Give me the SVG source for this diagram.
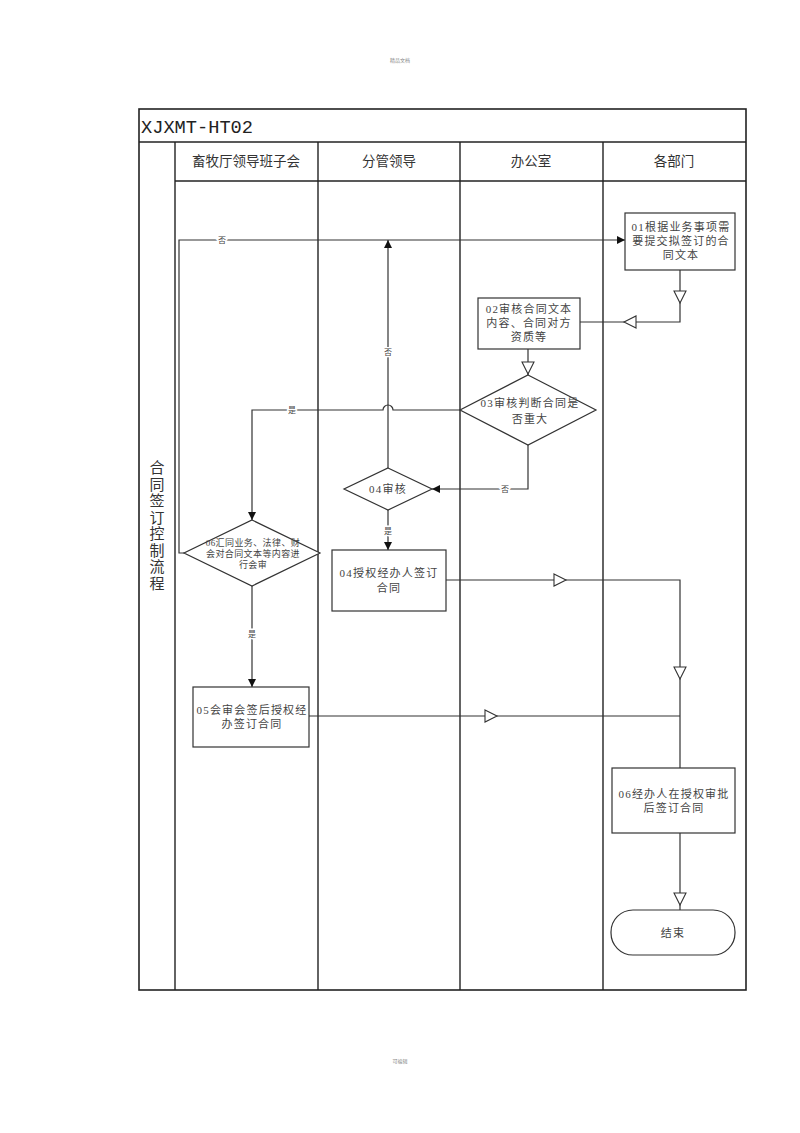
<svg xmlns="http://www.w3.org/2000/svg" width="800" height="1133" viewBox="0 0 800 1133">
<style>
.frame{fill:none;stroke:#222;stroke-width:1.6}
.lane{stroke:#222;stroke-width:1.4}
.node{fill:#fff;stroke:#333;stroke-width:1.2}
.t{font-family:"Liberation Serif","Noto Sans CJK SC",serif;font-size:11px;fill:#444;text-anchor:middle;letter-spacing:1.2px}
.ts{font-family:"Liberation Serif","Noto Sans CJK SC",serif;font-size:9px;fill:#444;text-anchor:middle;letter-spacing:0.4px}
.hd{font-family:"Noto Sans CJK SC",sans-serif;font-size:13.5px;fill:#333;text-anchor:middle}
.side{font-family:"Noto Sans CJK SC",sans-serif;font-size:15px;fill:#333;writing-mode:vertical-rl;letter-spacing:1.5px}
.lbl{font-family:"Noto Sans CJK SC",sans-serif;font-size:8px;fill:#444;text-anchor:middle;stroke:#fff;stroke-width:3px;paint-order:stroke}
.con{fill:none;stroke:#333;stroke-width:1.2}
.open{fill:#fff;stroke:#333;stroke-width:1.1}
.tiny{font-family:"Noto Sans CJK SC",sans-serif;font-size:5px;fill:#888;text-anchor:middle}
</style>
<defs>
<marker id="arr" markerUnits="userSpaceOnUse" markerWidth="8" markerHeight="8" refX="8" refY="4" orient="auto">
<path d="M0,0 L8,4 L0,8 Z" fill="#111"/>
</marker>
<path id="tri" d="M-6,-6 L6,0 L-6,6 Z"/>
</defs>
<rect width="800" height="1133" fill="#fff"/>
<text class="tiny" x="400" y="62">精品文档</text>
<text class="tiny" x="400" y="1063">可编辑</text>

<g id="frame">
<rect class="frame" x="139" y="109" width="607" height="881"/>
<line class="lane" x1="139" y1="142" x2="746" y2="142"/>
<line class="lane" x1="175" y1="181" x2="746" y2="181"/>
<line class="lane" x1="175" y1="142" x2="175" y2="990"/>
<line class="lane" x1="318" y1="142" x2="318" y2="990"/>
<line class="lane" x1="460" y1="142" x2="460" y2="990"/>
<line class="lane" x1="603" y1="142" x2="603" y2="990"/>
<text x="141" y="133" font-family="Liberation Mono, monospace" font-size="18" fill="#222" textLength="112" lengthAdjust="spacingAndGlyphs">XJXMT-HT02</text>
<text class="hd" x="246" y="166">畜牧厅领导班子会</text>
<text class="hd" x="389" y="166">分管领导</text>
<text class="hd" x="531" y="166">办公室</text>
<text class="hd" x="674" y="166">各部门</text>
<text class="side" x="157" y="460">合同签订控制流程</text>
</g>

<g id="connectors">
<path class="con" d="M184,553 H179 V240 H625" marker-end="url(#arr)"/>
<text class="lbl" x="222" y="243">否</text>
<path class="con" d="M388,468 V240" marker-end="url(#arr)"/>
<text class="lbl" x="388" y="355">否</text>
<path class="con" d="M680,270 V322 H580"/>
<use href="#tri" class="open" transform="translate(680,297) rotate(90)"/>
<use href="#tri" class="open" transform="translate(630,322) rotate(180)"/>
<path class="con" d="M528,349 V375"/>
<use href="#tri" class="open" transform="translate(528,368) rotate(90)"/>
<path class="con" d="M460,410 H393 A5,5 0 0 0 383,410 H252 V520" marker-end="url(#arr)"/>
<text class="lbl" x="292" y="413">是</text>
<path class="con" d="M528,445 V489 H432" marker-end="url(#arr)"/>
<text class="lbl" x="505" y="492">否</text>
<path class="con" d="M388,510 V550" marker-end="url(#arr)"/>
<text class="lbl" x="388" y="534">是</text>
<path class="con" d="M446,580 H680 V768"/>
<use href="#tri" class="open" transform="translate(560,580)"/>
<use href="#tri" class="open" transform="translate(680,673) rotate(90)"/>
<path class="con" d="M252,586 V687" marker-end="url(#arr)"/>
<text class="lbl" x="252" y="637">是</text>
<path class="con" d="M309,716 H680"/>
<use href="#tri" class="open" transform="translate(491,716)"/>
<path class="con" d="M680,833 V910"/>
<use href="#tri" class="open" transform="translate(680,899) rotate(90)"/>
</g>

<g id="n01">
<rect class="node" x="625" y="213" width="110" height="57"/>
<text class="t" x="681" y="231">01根据业务事项需</text>
<text class="t" x="681" y="245">要提交拟签订的合</text>
<text class="t" x="681" y="259">同文本</text>
</g>
<g id="n02">
<rect class="node" x="478" y="298" width="102" height="51"/>
<text class="t" x="529" y="313">02审核合同文本</text>
<text class="t" x="529" y="327">内容、合同对方</text>
<text class="t" x="529" y="341">资质等</text>
</g>
<g id="n03">
<polygon class="node" points="528,375 596,410 528,445 460,410"/>
<text class="t" x="530" y="407">03审核判断合同是</text>
<text class="t" x="530" y="423">否重大</text>
</g>
<g id="n04d">
<polygon class="node" points="388,468 432,489 388,510 344,489"/>
<text class="t" x="388" y="493">04审核</text>
</g>
<g id="n04b">
<rect class="node" x="332" y="550" width="114" height="61"/>
<text class="t" x="389" y="577">04授权经办人签订</text>
<text class="t" x="389" y="592">合同</text>
</g>
<g id="n06d">
<polygon class="node" points="252,520 320,553 252,586 184,553"/>
<text class="ts" x="253" y="546">06汇同业务、法律、财</text>
<text class="ts" x="253" y="557">会对合同文本等内容进</text>
<text class="ts" x="253" y="568">行会审</text>
</g>
<g id="n05">
<rect class="node" x="193" y="687" width="116" height="60"/>
<text class="t" x="252" y="714">05会审会签后授权经</text>
<text class="t" x="252" y="728">办签订合同</text>
</g>
<g id="n06b">
<rect class="node" x="612" y="768" width="123" height="65"/>
<text class="t" x="674" y="798">06经办人在授权审批</text>
<text class="t" x="674" y="812">后签订合同</text>
</g>
<g id="end">
<rect class="node" x="611" y="910" width="124" height="45" rx="22" ry="22"/>
<text class="t" x="673" y="937">结束</text>
</g>
</svg>
